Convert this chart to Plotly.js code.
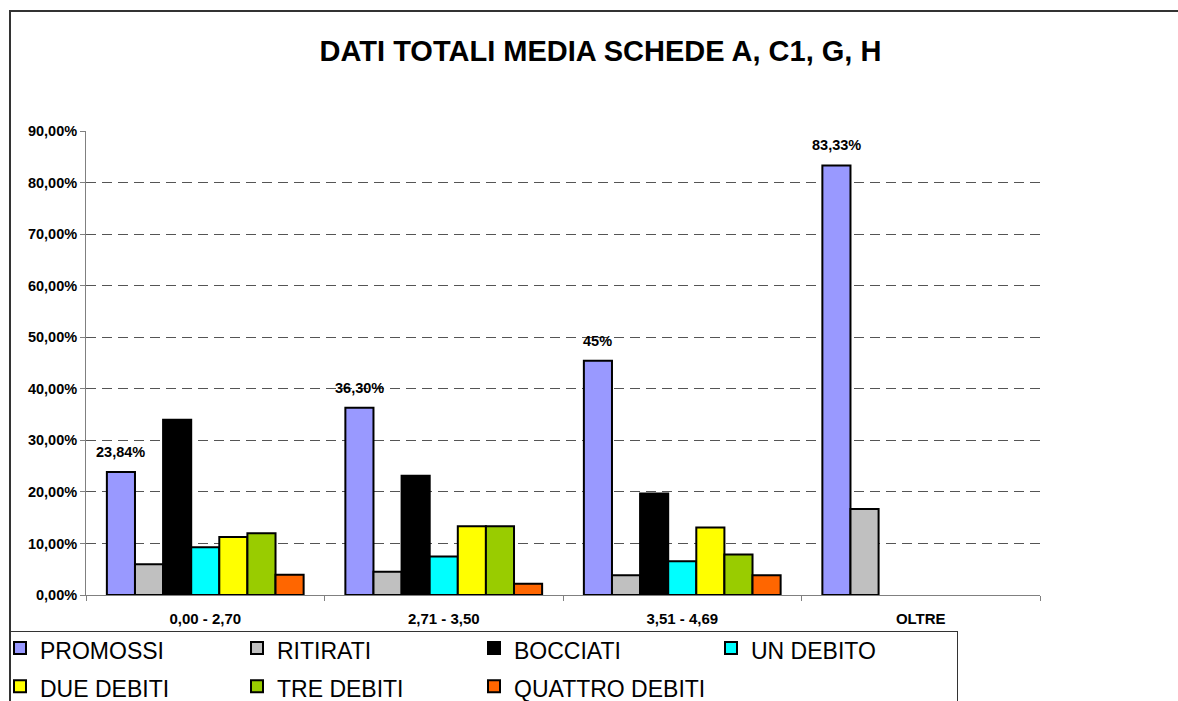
<!DOCTYPE html>
<html><head><meta charset="utf-8">
<script src="https://cdn.plot.ly/plotly-3.0.1.min.js"></script>
<style>
html,body{margin:0;padding:0;background:#fff;overflow:hidden;}
#chart{width:1178px;height:701px;}
#frame{position:absolute;left:9px;top:10px;width:1300px;height:900px;border:2px solid #333;pointer-events:none;}
#legendbox{position:absolute;left:10px;top:631px;width:946px;height:200px;border:1.5px solid #333;pointer-events:none;}
</style>
</head><body>
<div id="chart"></div><div id="frame"></div><div id="legendbox"></div>
<script>
const categories = ["0,00 - 2,70", "2,71 - 3,50", "3,51 - 4,69", "OLTRE"];
const seriesNames = ["PROMOSSI", "RITIRATI", "BOCCIATI", "UN DEBITO", "DUE DEBITI", "TRE DEBITI", "QUATTRO DEBITI"];
const promossi = [23.84, 36.30, 45.45, 83.33];
const ritirati = [5.96, 4.53, 3.82, 16.67];
const bocciati = [34.00, 23.12, 19.69, null];
const unDebito = [9.26, 7.45, 6.54, null];
const dueDebiti = [11.27, 13.34, 13.08, null];
const treDebiti = [11.98, 13.34, 7.84, null];
const quattroDebiti = [3.95, 2.20, 3.82, null];
const promossiLabels = ["23,84%", "36,30%", "45%", "83,33%"];

const seriesValues = [promossi, ritirati, bocciati, unDebito, dueDebiti, treDebiti, quattroDebiti];
const seriesColors = ["#9999FF", "#C0C0C0", "#000000", "#00FFFF", "#FFFF00", "#99CC00", "#FF6600"];

const FONT = "Liberation Sans, Arial, sans-serif";
const BARGAP = 0.175;

const traces = seriesNames.map((name, i) => ({
  type: "bar",
  name: '<span style="font-size:23px">' + name + '</span>',
  x: categories,
  y: seriesValues[i],
  marker: {color: seriesColors[i], line: {color: "#000", width: 2}},
  hoverinfo: "skip"
}));

// data labels above the PROMOSSI bars (first bar of each group)
const nSeries = seriesNames.length;
const firstBarOffset = -0.5 + BARGAP / 2 + (1 - BARGAP) / nSeries / 2;
const annotations = categories.map((c, i) => ({
  x: i + firstBarOffset, y: promossi[i], xref: "x", yref: "y",
  text: promossiLabels[i], showarrow: false,
  xanchor: "center", yanchor: "middle", yshift: 20,
  font: {family: FONT, size: 14.5, color: "#000", weight: "bold"}
}));

const layout = {
  width: 1178, height: 701,
  paper_bgcolor: "#fff", plot_bgcolor: "#fff",
  margin: {l: 86, r: 138, t: 131, b: 106, autoexpand: false},
  separators: ",.",
  barmode: "group",
  bargap: BARGAP,
  bargroupgap: 0,
  title: {
    text: "DATI TOTALI MEDIA SCHEDE A, C1, G, H",
    font: {family: FONT, size: 29, color: "#000", weight: "bold"},
    xref: "container", yref: "container",
    x: 600.5 / 1178, xanchor: "center",
    y: 1 - 51 / 701, yanchor: "middle"
  },
  xaxis: {
    type: "category",
    showline: true, linecolor: "#808080", linewidth: 1,
    ticks: "outside", tickson: "boundaries", ticklen: 5, tickcolor: "#808080",
    tickfont: {family: FONT, size: 15, color: "#000", weight: "bold"},
    ticklabelstandoff: 10,
    showgrid: false, zeroline: false
  },
  yaxis: {
    range: [0, 90], dtick: 10, tick0: 0,
    tickformat: ".2f", ticksuffix: "%",
    showline: true, linecolor: "#808080", linewidth: 1,
    ticks: "outside", ticklen: 5, tickcolor: "#808080",
    tickfont: {family: FONT, size: 14.5, color: "#000", weight: "bold"},
    showgrid: true, gridcolor: "#555", gridwidth: 1, griddash: "10px,6px",
    zeroline: false
  },
  legend: {
    orientation: "h",
    x: (0 - 86) / 954, xanchor: "left",
    y: -(624 - 595) / 464, yanchor: "top",
    font: {family: FONT, size: 27, color: "#000"},
    entrywidth: 192,
    borderwidth: 0,
    bgcolor: "rgba(0,0,0,0)",
    traceorder: "normal"
  },
  annotations: annotations,
  showlegend: true
};

Plotly.newPlot("chart", traces, layout, {displayModeBar: false, staticPlot: true});
</script>
</body></html>
